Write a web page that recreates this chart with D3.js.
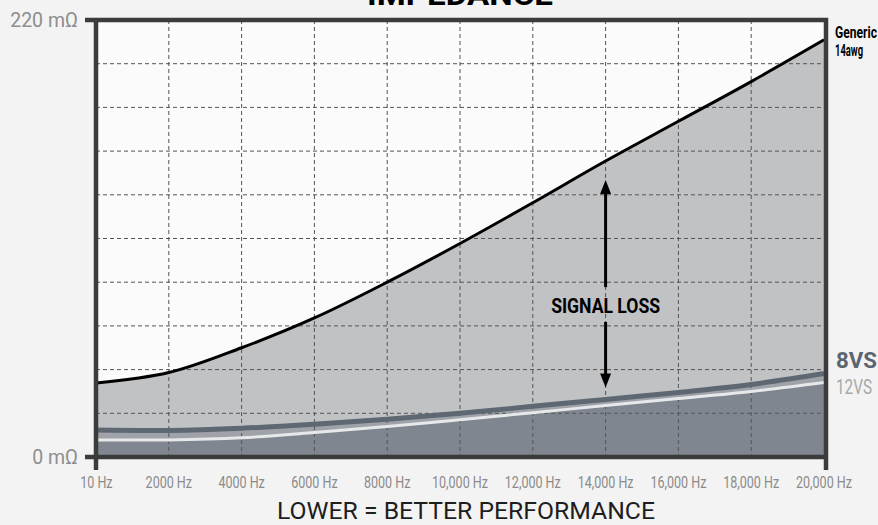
<!DOCTYPE html>
<html><head><meta charset="utf-8">
<script src="https://cdn.jsdelivr.net/npm/d3@7"></script>
<style>
html,body{margin:0;padding:0;background:#f3f3f3;}
svg{display:block;}
</style></head>
<body>
<script>
// ---- data ----
const freqs = [10, 2000, 4000, 6000, 8000, 10000, 12000, 14000, 16000, 18000, 20000];
const generic14awg = [37.3, 42.5, 55, 70, 88, 107.5, 128, 149, 169, 189, 210];
const vs8  = [13.6, 13.4, 14.5, 16.5, 19, 22, 25.5, 29, 32.5, 36.5, 42];
const vs12 = [8.6, 8.6, 9.7, 12.3, 15.3, 18.8, 22.3, 25.9, 29.4, 33, 37.5];
const xTickValues = [10, 2000, 4000, 6000, 8000, 10000, 12000, 14000, 16000, 18000, 20000];
const xTickLabels = ["10 Hz","2000 Hz","4000 Hz","6000 Hz","8000 Hz","10,000 Hz","12,000 Hz","14,000 Hz","16,000 Hz","18,000 Hz","20,000 Hz"];
const yTickValues = [0, 220];
const yTickLabels = ["0 m\u03A9", "220 m\u03A9"];
const gridY = [22, 44, 66, 88, 110, 132, 154, 176, 198];
const gridX = [2000, 4000, 6000, 8000, 10000, 12000, 14000, 16000, 18000];
const arrowAt = 14000, arrowTop = 139.5, arrowBottom = 35, arrowGapTop = 85.5, arrowGapBottom = 68;

const W = 878, H = 525;
const svg = d3.select("body").append("svg").attr("width", W).attr("height", H);
const x = d3.scaleLinear().domain([0, 20000]).range([96, 824]);
const y = d3.scaleLinear().domain([0, 220]).range([457, 20]);

function label(text, px, py, o) {
  const t = svg.append("text").text(text)
    .attr("font-family", o.family || "Roboto, 'DejaVu Sans', sans-serif")
    .attr("font-size", o.size).attr("font-weight", o.weight || 400)
    .attr("fill", o.color || "#000").attr("text-anchor", o.anchor || "start");
  let s = 1;
  if (o.width) s = o.width / t.node().getComputedTextLength();
  if (o.scale) s = o.scale;
  t.attr("transform", `translate(${px},${py}) scale(${s},1)`);
  return t;
}

// plot background
svg.append("rect").attr("x", x(0)).attr("y", y(220)).attr("width", x(20000) - x(0)).attr("height", y(0) - y(220)).attr("fill", "#fbfbfb");

const defs = svg.append("defs");
defs.append("clipPath").attr("id", "clip").append("rect")
  .attr("x", x(0)).attr("y", y(220)).attr("width", x(20000) - x(0)).attr("height", y(0) - y(220));

const plot = svg.append("g").attr("clip-path", "url(#clip)");
const idx = d3.range(freqs.length);
const crv = d3.curveCatmullRom.alpha(0.5);
const area = arr => d3.area().curve(crv).x(i => x(freqs[i])).y0(y(0)).y1(i => y(arr[i]))(idx);
const line = arr => d3.line().curve(crv).x(i => x(freqs[i])).y(i => y(arr[i]))(idx);

plot.append("path").attr("d", area(generic14awg)).attr("fill", "#c1c2c4");
plot.append("path").attr("d", area(vs8)).attr("fill", "#9fa3a9");
plot.append("path").attr("d", area(vs12)).attr("fill", "#80868f");

// grid
plot.selectAll(".gx").data(gridX).join("line")
  .attr("x1", d => x(d)).attr("x2", d => x(d)).attr("y1", y(220)).attr("y2", y(0))
  .attr("stroke", "#555").attr("stroke-width", 1).attr("stroke-dasharray", "4,3");
plot.selectAll(".gy").data(gridY).join("line")
  .attr("x1", x(0)).attr("x2", x(20000)).attr("y1", d => y(d)).attr("y2", d => y(d))
  .attr("stroke", "#555").attr("stroke-width", 1).attr("stroke-dasharray", "4,3");

plot.append("path").attr("d", line(vs8)).attr("fill", "none").attr("stroke", "#5d6872").attr("stroke-width", 5);
plot.append("path").attr("d", line(vs12)).attr("fill", "none").attr("stroke", "#e6e8ea").attr("stroke-width", 3);
plot.append("path").attr("d", line(generic14awg)).attr("fill", "none").attr("stroke", "#000").attr("stroke-width", 3);

// frame
const fc = "#3b3b3b";
svg.append("line").attr("x1", 85).attr("x2", 828).attr("y1", y(220)).attr("y2", y(220)).attr("stroke", fc).attr("stroke-width", 4.5);
svg.append("line").attr("x1", 85).attr("x2", 828).attr("y1", y(0)).attr("y2", y(0)).attr("stroke", fc).attr("stroke-width", 4.5);
svg.append("line").attr("x1", x(0)).attr("x2", x(0)).attr("y1", y(220) - 2).attr("y2", 470).attr("stroke", fc).attr("stroke-width", 4.5);
svg.append("line").attr("x1", x(20000) + 2).attr("x2", x(20000) + 2).attr("y1", y(220) - 2).attr("y2", 470).attr("stroke", fc).attr("stroke-width", 4.5);

// arrow
const ax = x(arrowAt);
function arrowHead(tipY, dir) {
  svg.append("path").attr("d", `M${ax},${tipY} L${ax - 5.5},${tipY + dir * 14} L${ax + 5.5},${tipY + dir * 14} Z`).attr("fill", "#000");
}
svg.append("line").attr("x1", ax).attr("x2", ax).attr("y1", y(arrowTop) + 8).attr("y2", y(arrowGapTop)).attr("stroke", "#000").attr("stroke-width", 3);
svg.append("line").attr("x1", ax).attr("x2", ax).attr("y1", y(arrowGapBottom)).attr("y2", y(arrowBottom) - 8).attr("stroke", "#000").attr("stroke-width", 3);
arrowHead(y(arrowTop), 1);
arrowHead(y(arrowBottom), -1);
label("SIGNAL LOSS", ax, 313, {size: 21, weight: 700, anchor: "middle", width: 109});

// x ticks
const probe = svg.append("text").text("10,000 Hz").attr("font-family", "Roboto").attr("font-size", 17);
const xs = 56 / probe.node().getComputedTextLength();
probe.remove();
xTickValues.forEach((v, i) => label(xTickLabels[i], x(v), 488, {size: 17, color: "#8a8a8a", anchor: "middle", scale: xs}));

// y ticks
yTickValues.forEach((v, i) => label(yTickLabels[i], 78, y(v) + 7, {size: 19.5, color: "#8e8e8e", anchor: "end"}));

// series labels
label("Generic", 835, 38, {size: 16, weight: 700, width: 42});
label("14awg", 835, 56, {size: 16, weight: 700, width: 28});
label("8VS", 836, 368, {size: 22, weight: 700, color: "#5b6570", width: 41});
label("12VS", 836, 394, {size: 20, color: "#a8a8a8", width: 36});

// titles
label("IMPEDANCE", 460, 5, {size: 30, weight: 700, anchor: "middle", width: 186});
label("LOWER = BETTER PERFORMANCE", 466, 519, {size: 24, color: "#1e1e1e", anchor: "middle", width: 378});
</script>
</body></html>
